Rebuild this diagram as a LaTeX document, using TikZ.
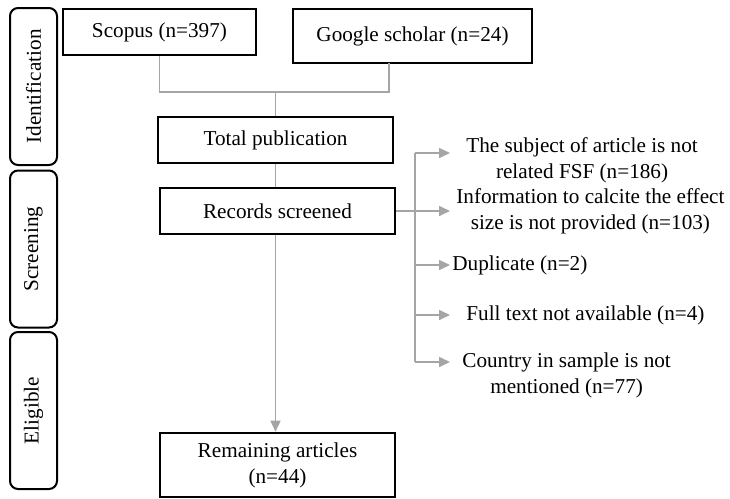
\documentclass[tikz,border=0pt]{standalone}
\usepackage{fontspec}
\setmainfont{Liberation Serif}
\usetikzlibrary{arrows.meta,positioning}
\definecolor{linegray}{RGB}{165,165,165}
\tikzset{
  box/.style={draw, line width=1.3pt, align=center, inner sep=0pt, minimum width=117.5pt, minimum height=23pt},
  stage/.style={draw, line width=1pt, rounded corners=4pt, rotate=90, minimum width=78.5pt, minimum height=23.5pt},
  link/.style={draw=linegray, line width=0.8pt},
  arrow/.style={link, -{Triangle[length=5.5pt,width=5pt,fill=linegray]}},
  excl/.style={anchor=west, align=center, inner ysep=0pt}
}

\begin{document}
\begin{tikzpicture}[x=0.5pt, y=-0.5pt, font=\fontsize{10.6}{13}\selectfont]
    \useasboundingbox (0,0) rectangle (730,499);
    % stages
    \node[stage] (ident) at (33.5,86.5) {Identification};
    \node[stage] (screen) at (33.5,249) {Screening};
    \node[stage] (elig) at (33.5,410.5) {Eligible};
    % main column
    \node[box, minimum width=96.5pt] (scopus) at (159.5,32) {Scopus (n=397)};
    \node[box, minimum width=119.5pt, minimum height=27pt] (google) at (412.5,36) {Google scholar (n=24)};
    \node[box] (total) at (275.5,140) {Total publication};
    \node[box] (records) at (277.5,211) {Records screened};
    \node[box, minimum height=32pt] (remaining) at (277.5,465) {Remaining articles\\(n=44)};
    % excluded
    \node[excl, inner xsep=8pt] (ex1) at (450,160) {The subject of article is not\\related FSF (n=186)};
    \node[excl, inner xsep=3pt] (ex2) at (450,211.5) {Information to calcite the effect\\size is not provided (n=103)};
    \node[excl, inner xsep=1pt] (ex3) at (450,265) {Duplicate (n=2)};
    \node[excl, inner xsep=8pt] (ex4) at (450,315) {Full text not available (n=4)};
    \node[excl, inner xsep=6pt] (ex5) at (450,375) {Country in sample is not\\mentioned (n=77)};
    \coordinate (join) at (275.5,92);
    \coordinate (gdrop) at (389,63);
    \coordinate (b1) at (415,153);
    \coordinate (b5) at (415,362);
    % connectors
    \draw[link] (scopus.south) |- (join) -| (gdrop);
    \draw[link] (join) -- (total.north);
    \draw[link] (total.south) -- (total.south |- records.north);
    \draw[arrow] (records.south -| total.south) -- (remaining.north -| total.south);
    \draw[link] (b1) -- (b5);
    \draw[arrow] (b1) -- (b1 -| ex1.west);
    \draw[arrow] (records.east) -- (records.east -| ex2.west);
    \draw[arrow] (b1 |- ex3.west) -- (ex3.west);
    \draw[arrow] (b1 |- ex4.west) -- (ex4.west);
    \draw[arrow] (b5) -- (b5 -| ex5.west);
\end{tikzpicture}
\end{document}
